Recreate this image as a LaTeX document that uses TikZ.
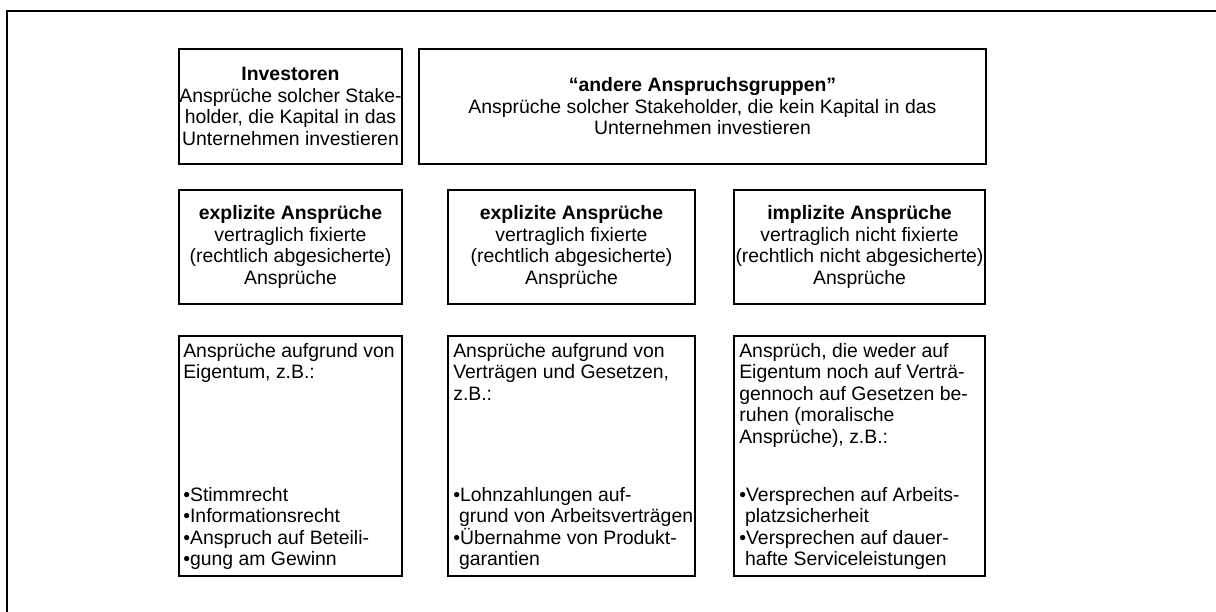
\documentclass[tikz,border=0pt]{standalone}
\usepackage{fontspec}
\setmainfont{Liberation Sans}
\usetikzlibrary{calc}
\newcommand\bodyfont{\fontsize{19.4}{21.5}\selectfont}
\tikzset{
  frameline/.style={line width=1.8pt},
  panel/.style={draw, line width=1.8pt, inner sep=0pt, align=center, font=\bodyfont},
  blurb/.style={inner sep=0pt, align=left, font=\bodyfont},
}
\begin{document}
\begin{tikzpicture}[x=1pt,y=-1pt]
\useasboundingbox (0,0) rectangle (1216,612);
% open outer frame (left and top edges)
\draw[frameline] (7,620) -- (7,11) -- (1220,11);

% top row: stakeholder groups
\node[panel, minimum width=223pt, minimum height=115pt] (inv) at (290.5,106.5)
  {\textbf{Investoren}\\Ansprüche solcher Stake-\\holder, die Kapital in das\\Unternehmen investieren};
\node[panel, minimum width=567pt, minimum height=115pt] (other) at (702.5,106.5)
  {\textbf{“andere Anspruchsgruppen”}\\Ansprüche solcher Stakeholder, die kein Kapital in das\\Unternehmen investieren};

% middle row: kinds of claims
\node[panel, minimum width=223pt, minimum height=114pt] (kindA) at (290.5,247)
  {\textbf{explizite Ansprüche}\\vertraglich fixierte\\(rechtlich abgesicherte)\\Ansprüche};
\node[panel, minimum width=247pt, minimum height=114pt] (kindB) at (571.5,247)
  {\textbf{explizite Ansprüche}\\vertraglich fixierte\\(rechtlich abgesicherte)\\Ansprüche};
\node[panel, minimum width=251pt, minimum height=114pt] (kindC) at (859.5,247)
  {\textbf{implizite Ansprüche}\\vertraglich nicht fixierte\\(rechtlich nicht abgesicherte)\\Ansprüche};

% bottom row: grounds and examples
\node[panel, minimum width=223pt, minimum height=240pt] (baseA) at (290.5,456) {};
\node[panel, minimum width=247pt, minimum height=240pt] (baseB) at (571.5,456) {};
\node[panel, minimum width=251pt, minimum height=240pt] (baseC) at (859.5,456) {};

\node[blurb, anchor=north west] (headA) at ($(baseA.north west)+(5,8)$)
  {Ansprüche aufgrund von\\Eigentum, z.B.:};
\node[blurb, anchor=south west] (listA) at ($(baseA.south west)+(5,-7)$)
  {•Stimmrecht\\•Informationsrecht\\•Anspruch auf Beteili-\\•gung am Gewinn};

\node[blurb, anchor=north west] (headB) at ($(baseB.north west)+(6,8)$)
  {Ansprüche aufgrund von\\Verträgen und Gesetzen,\\z.B.:};
\node[blurb, anchor=south west] (listB) at ($(baseB.south west)+(6,-7)$)
  {•Lohnzahlungen auf-\\\hspace*{0.3em}grund von Arbeitsverträgen\\•Übernahme von Produkt-\\\hspace*{0.3em}garantien};

\node[blurb, anchor=north west] (headC) at ($(baseC.north west)+(6,8)$)
  {Ansprüch, die weder auf\\Eigentum noch auf Verträ-\\gennoch auf Gesetzen be-\\ruhen (moralische\\Ansprüche), z.B.:};
\node[blurb, anchor=south west] (listC) at ($(baseC.south west)+(6,-7)$)
  {•Versprechen auf Arbeits-\\\hspace*{0.3em}platzsicherheit\\•Versprechen auf dauer-\\\hspace*{0.3em}hafte Serviceleistungen};
\end{tikzpicture}
\end{document}
